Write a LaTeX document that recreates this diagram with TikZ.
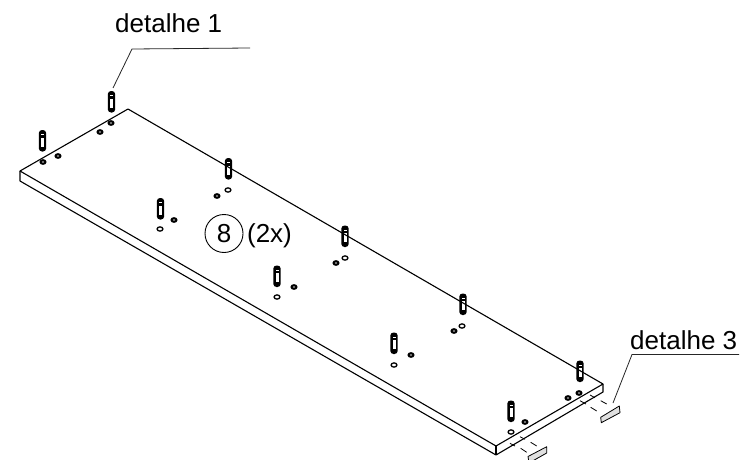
\documentclass[tikz,border=0pt]{standalone}
\usepackage{fontspec}
\setmainfont{Liberation Sans}
\tikzset{
  edgeline/.style={draw=black,line width=1.1pt,line join=round},
  leader/.style={draw=black!85,line width=0.8pt},
  dashseg/.style={draw=black,line width=0.8pt},
  plate/.style={draw=black,fill=black!12,line width=0.8pt,line join=round},
  lbl/.style={inner sep=0pt,anchor=base west,font=\fontsize{26}{30}\selectfont},
  lblb/.style={inner sep=0pt,font=\fontsize{26}{30}\selectfont},
  pics/pin/.style={code={
    \fill[black,rounded corners=3.2pt] (-3.7,0) rectangle (3.7,21.5);
    \fill[white] (-1.5,4.4) rectangle (1.5,5.3);
    \fill[white] (-1.5,7.6) rectangle (1.5,16.5);
  }},
  pics/darkhole/.style={code={
    \fill[black] (0,0) ellipse (3.6 and 2.9);
    \fill[white] (0,0) ellipse (1.1 and 0.7);
  }},
  pics/openhole/.style={code={
    \draw[black,line width=1.3pt,fill=white] (0,0) ellipse (2.9 and 2.1);
  }},
}
\begin{document}
\begin{tikzpicture}[x=1pt,y=-1pt]
\useasboundingbox[fill=white] (0,0) rectangle (744,460);
% pins
\foreach \px/\py in {111.5/91,42.5/130,228.5/158,160.5/198,345/225.5,277/265.5,463/293.5,394/332.5,580/360.5,511/400.5}
  \pic at (\px,\py) {pin};
% holes
\foreach \hx/\hy in {111/123,100/132,43/162,58/156,217/196,174/220,336/263,294/287,454/331,411/355,568/398,579/393,525/422}
  \pic at (\hx,\hy) {darkhole};
\foreach \hx/\hy in {228/190,160/229,345/258,277/297,462/326,394/365,511/432}
  \pic at (\hx,\hy) {openhole};
% board
\coordinate (tl) at (20,171);
\coordinate (tb) at (128,109);
\coordinate (tr) at (603,384);
\coordinate (tf) at (496,446);
\coordinate (bl) at (20,181);
\coordinate (br) at (603,392);
\coordinate (bf) at (496,455);
\draw[edgeline] (tl) -- (tb) -- (tr) -- (tf) -- cycle;
\draw[edgeline] (tl) -- (bl) -- (bf) -- (br) -- (tr);
\draw[edgeline] (tf) -- (bf);
% dashes
\draw[dashseg] (580,400.7) -- (586,404) (590.7,407.3) -- (596.7,411);
\draw[dashseg] (590,395) -- (595,397.7) (600.7,400.7) -- (606.7,404);
\draw[dashseg] (510,443.3) -- (515,446) (520.7,448.3) -- (526.7,452.3);
\draw[dashseg] (520,436.7) -- (525,439.3) (530.7,442.3) -- (536.7,446);
% plates
\draw[plate] (600.7,417.3) -- (619.3,406) -- (620,412.7) -- (601.3,422.7) -- cycle;
\draw[plate] (528,456.5) -- (546.7,446.7) -- (546.7,453) -- (529,463) -- cycle;
% labels
\node[lbl] (d1) at (115,33) {detalhe 1};
\node[lbl] (d3) at (630,349) {detalhe 3};
\coordinate (d1a) at (113,88);
\coordinate (d1b) at (132,49);
\coordinate (d1c) at (250,48);
\draw[leader] (d1a) -- (d1b) -- (d1c);
\coordinate (d3a) at (613,403);
\coordinate (d3b) at (632,354.5);
\coordinate (d3c) at (739,354.5);
\draw[leader] (d3a) -- (d3b) -- (d3c);
\node[draw=black,line width=0.9pt,circle,minimum size=38pt,inner sep=0pt,font=\fontsize{26}{30}\selectfont] (eight) at (224,233.5) {8};
\node[lblb,anchor=base] (times) at (269.5,242.5) {(2x)};
\end{tikzpicture}
\end{document}
